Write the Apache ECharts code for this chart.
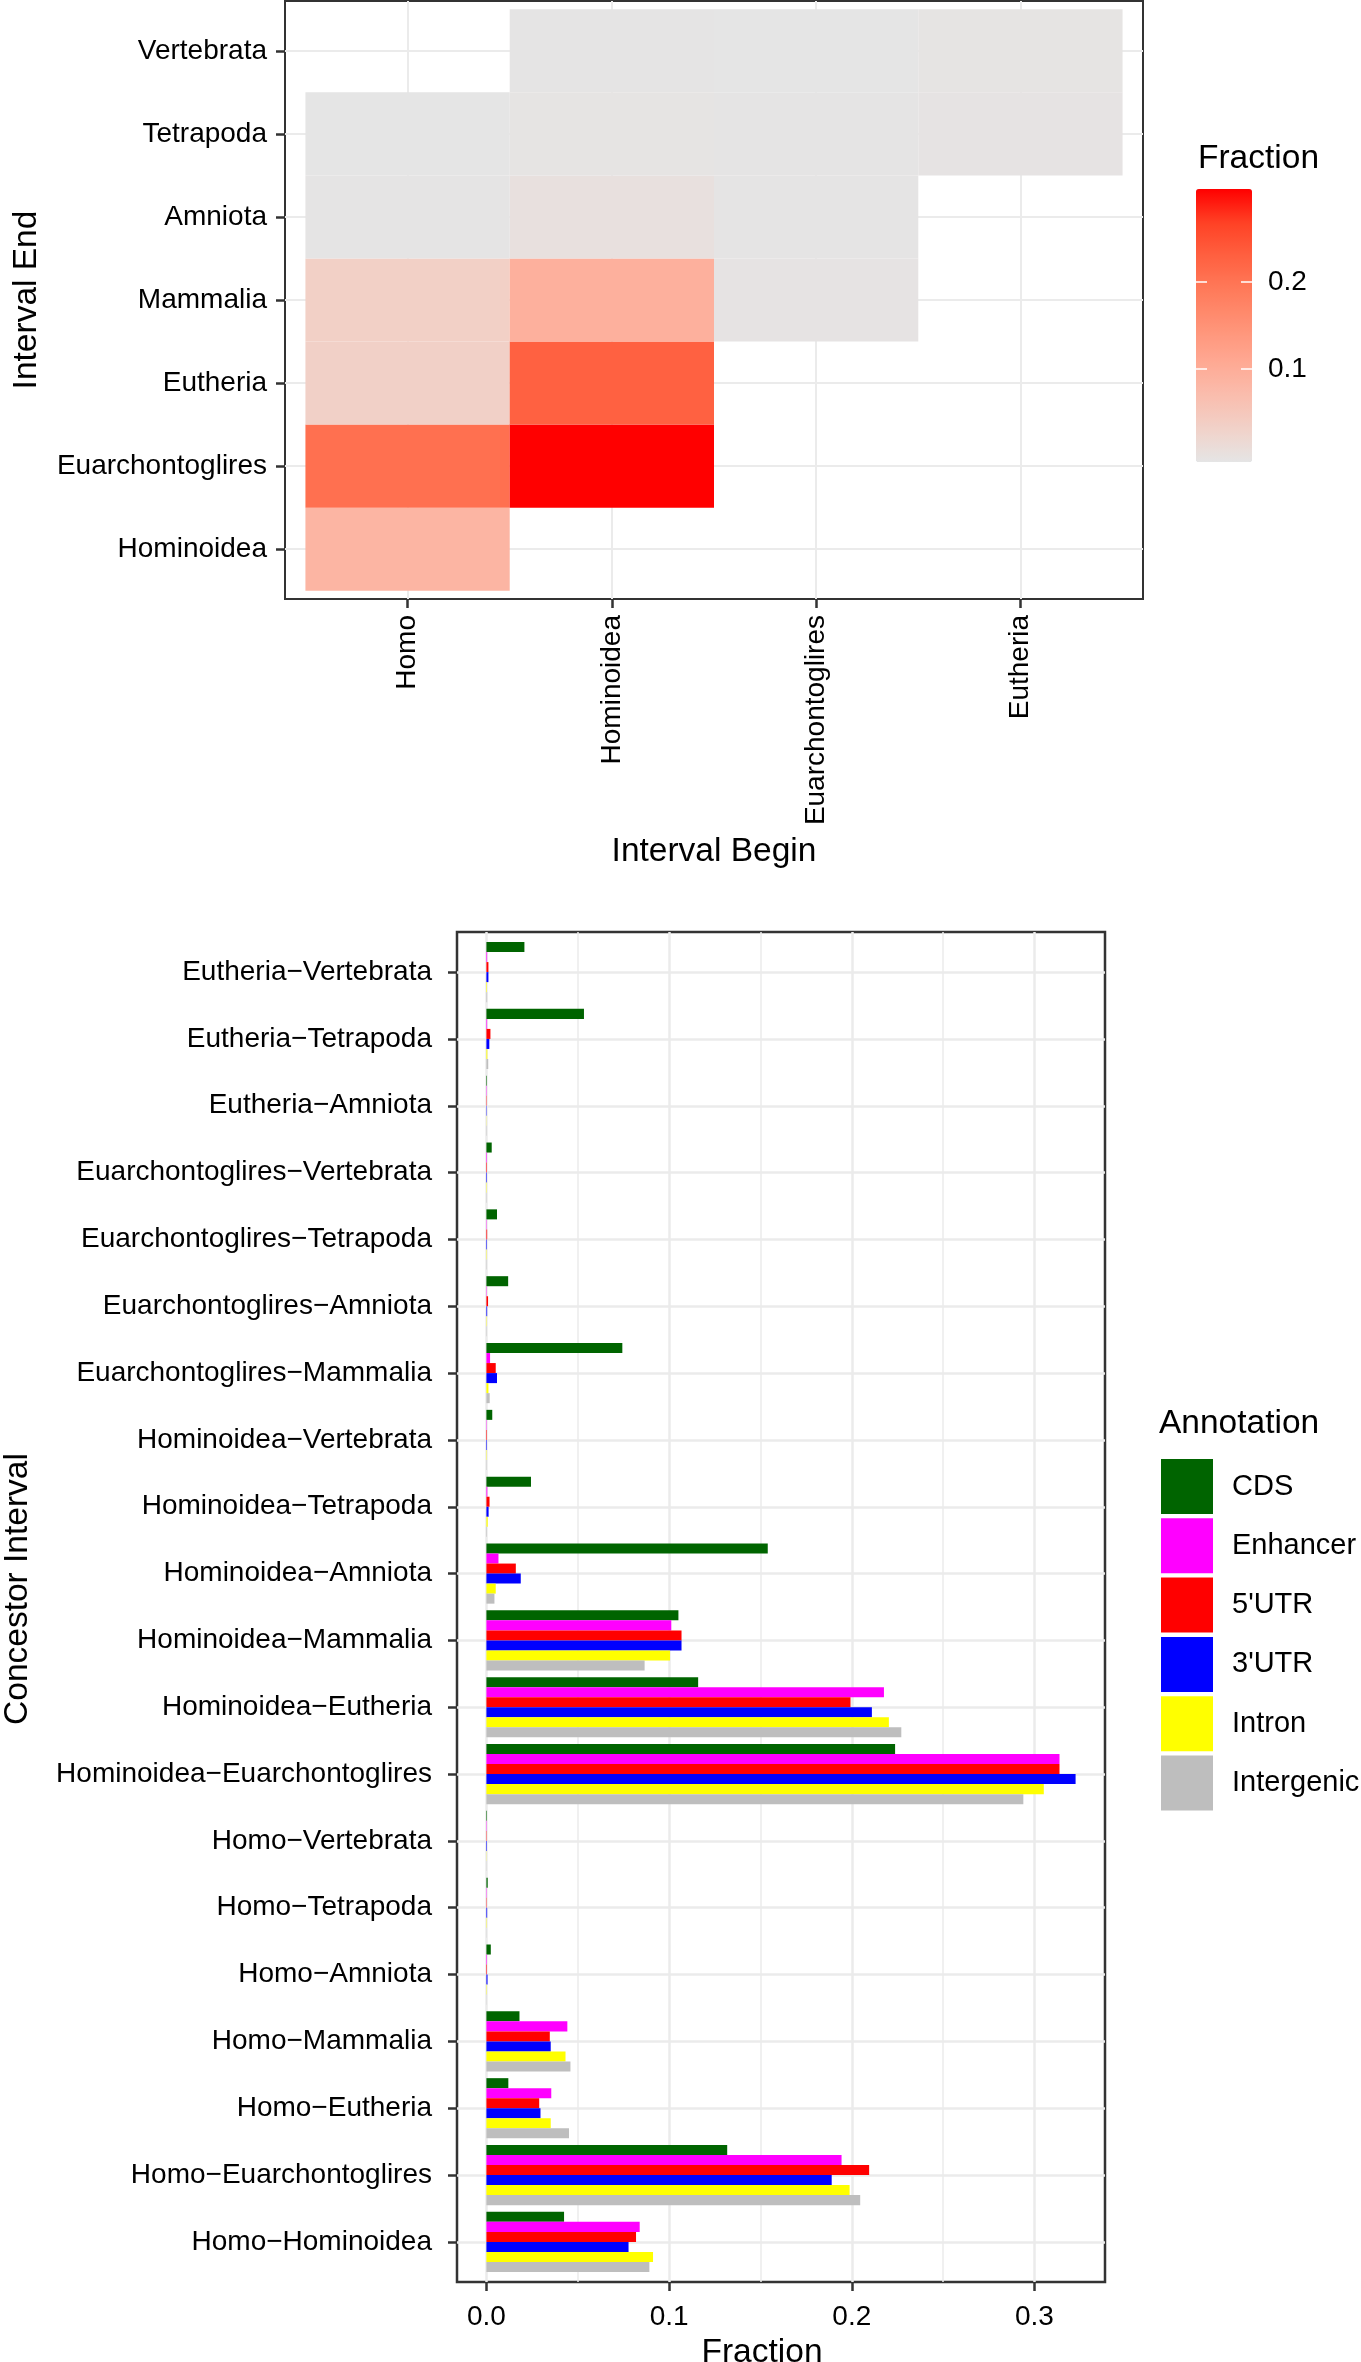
<!DOCTYPE html>
<html><head><meta charset="utf-8">
<script src="https://cdn.jsdelivr.net/npm/echarts@6/dist/echarts.min.js"></script>
<style>html,body{margin:0;padding:0;background:#fff}#c{width:1361px;height:2362px}</style>
</head><body><div id="c"></div>
<script>
const FONT = '"Liberation Sans", Arial, Helvetica, sans-serif';

// ---------- Heatmap data ----------
const beginLevels = ['Homo', 'Hominoidea', 'Euarchontoglires', 'Eutheria'];
const endLevels = ['Hominoidea', 'Euarchontoglires', 'Eutheria', 'Mammalia', 'Amniota', 'Tetrapoda', 'Vertebrata'];
const heatBegin = ['Homo', 'Homo', 'Homo', 'Homo', 'Homo', 'Homo',
  'Hominoidea', 'Hominoidea', 'Hominoidea', 'Hominoidea', 'Hominoidea', 'Hominoidea',
  'Euarchontoglires', 'Euarchontoglires', 'Euarchontoglires', 'Euarchontoglires',
  'Eutheria', 'Eutheria'];
const heatEnd = ['Hominoidea', 'Euarchontoglires', 'Eutheria', 'Mammalia', 'Amniota', 'Tetrapoda',
  'Euarchontoglires', 'Eutheria', 'Mammalia', 'Amniota', 'Tetrapoda', 'Vertebrata',
  'Mammalia', 'Amniota', 'Tetrapoda', 'Vertebrata',
  'Tetrapoda', 'Vertebrata'];
const heatFraction = [0.087, 0.204, 0.039, 0.040, 0.001, 0.0005,
  0.300, 0.225, 0.096, 0.009, 0.002, 0.001,
  0.003, 0.001, 0.001, 0.0005,
  0.003, 0.002];
const fractionLegendTicks = [0.1, 0.2];

// ---------- Bar data (top to bottom) ----------
const intervals = ['Eutheria−Vertebrata', 'Eutheria−Tetrapoda', 'Eutheria−Amniota',
  'Euarchontoglires−Vertebrata', 'Euarchontoglires−Tetrapoda', 'Euarchontoglires−Amniota', 'Euarchontoglires−Mammalia',
  'Hominoidea−Vertebrata', 'Hominoidea−Tetrapoda', 'Hominoidea−Amniota', 'Hominoidea−Mammalia',
  'Hominoidea−Eutheria', 'Hominoidea−Euarchontoglires',
  'Homo−Vertebrata', 'Homo−Tetrapoda', 'Homo−Amniota', 'Homo−Mammalia', 'Homo−Eutheria',
  'Homo−Euarchontoglires', 'Homo−Hominoidea'];
const annotations = ['CDS', 'Enhancer', "5'UTR", "3'UTR", 'Intron', 'Intergenic'];
const cds        = [0.0208, 0.0534, 0.0003, 0.0029, 0.0058, 0.0119, 0.0744, 0.0032, 0.0244, 0.1540, 0.1051, 0.1159, 0.2237, 0.0003, 0.0007, 0.0024, 0.0181, 0.0120, 0.1318, 0.0425];
const enhancer   = [0.0004, 0.0004, 0.0002, 0.0003, 0.0002, 0.0002, 0.0020, 0.0002, 0.0005, 0.0066, 0.1012, 0.2176, 0.3137, 0.0002, 0.0002, 0.0003, 0.0443, 0.0355, 0.1944, 0.0839];
const utr5       = [0.0011, 0.0022, 0.0002, 0.0003, 0.0004, 0.0009, 0.0051, 0.0003, 0.0017, 0.0161, 0.1068, 0.1993, 0.3137, 0.0002, 0.0002, 0.0003, 0.0347, 0.0289, 0.2095, 0.0819];
const utr3       = [0.0011, 0.0016, 0.0002, 0.0003, 0.0003, 0.0004, 0.0058, 0.0003, 0.0012, 0.0188, 0.1068, 0.2110, 0.3225, 0.0003, 0.0004, 0.0006, 0.0352, 0.0296, 0.1890, 0.0778];
const intron     = [0.0003, 0.0005, 0.0001, 0.0002, 0.0002, 0.0002, 0.0011, 0.0002, 0.0007, 0.0051, 0.1005, 0.2203, 0.3051, 0.0001, 0.0002, 0.0002, 0.0433, 0.0352, 0.1988, 0.0912];
const intergenic = [0.0004, 0.0010, 0.0002, 0.0002, 0.0002, 0.0002, 0.0018, 0.0002, 0.0003, 0.0044, 0.0866, 0.2271, 0.2939, 0.0001, 0.0001, 0.0001, 0.0460, 0.0452, 0.2046, 0.0892];
const fractionTicks = [0, 0.1, 0.2, 0.3];
const fractionMinorTicks = [0.05, 0.15, 0.25];

// ---------- styles ----------
const annotationColors = ['#006400', '#FF00FF', '#FF0000', '#0000FF', '#FFFF00', '#BEBEBE'];
const heatColors = ['#E5E5E5', '#F1D1C8', '#FABCAC', '#FFA791', '#FF9276', '#FF7B5B', '#FF6141', '#FF4225', '#FF0000'];
const GRID = '#EBEBEB', INK = '#333333';

const seriesValues = [cds, enhancer, utr5, utr3, intron, intergenic];
const beginPos = beginLevels.map((_, i) => i + 1);
const endPos = endLevels.map((_, i) => i + 1);
const intervalPos = intervals.map((_, i) => i + 1);

const heatData = heatBegin.map((b, i) => [beginLevels.indexOf(b) + 1, endLevels.indexOf(heatEnd[i]) + 1, heatFraction[i]]);

function heatRender(params, api) {
  const x = api.value(0), y = api.value(1);
  const p0 = api.coord([x - 0.5, y + 0.5]);
  const p1 = api.coord([x + 0.5, y - 0.5]);
  return { type: 'rect', shape: { x: p0[0], y: p0[1], width: p1[0] - p0[0], height: p1[1] - p0[1] },
    style: { fill: api.visual('color') } };
}
function barRender(k) {
  return function (params, api) {
    const v = api.value(0), y = api.value(1);
    const top = y - 0.45 + k * 0.15, bot = top + 0.15;
    const a = api.coord([0, top]), b = api.coord([v, bot]);
    return { type: 'rect', shape: { x: a[0], y: Math.min(a[1], b[1]), width: b[0] - a[0], height: Math.abs(b[1] - a[1]) },
      style: { fill: annotationColors[k] } };
  };
}

const tickLabel = { fontSize: 28, color: '#000', fontFamily: FONT };
const titleStyle = { fontSize: 33.5, color: '#000', fontWeight: 'normal', fontFamily: FONT };
const noLine = { show: false, onZero: false };

const option = {
  animation: false,
  backgroundColor: '#fff',
  textStyle: { fontFamily: FONT },
  title: [
    { text: 'Fraction', left: 1198, top: 142, padding: 0, textStyle: titleStyle },
    { text: 'Annotation', left: 1159, top: 1407, padding: 0, textStyle: titleStyle }
  ],
  grid: [
    { left: 285, top: 1, width: 858, height: 598, show: true, borderColor: INK, borderWidth: 2, backgroundColor: '#fff', outerBoundsMode: 'none' },
    { left: 457, top: 932, width: 648, height: 1350, show: true, borderColor: INK, borderWidth: 2.5, backgroundColor: '#fff', outerBoundsMode: 'none' },
    { left: 1196, top: 189, width: 56, height: 273, show: false, outerBoundsMode: 'none' }
  ],
  xAxis: [
    { gridIndex: 0, type: 'value', min: 0.4, max: 4.6,
      axisLine: noLine,
      axisTick: { customValues: beginPos, length: 9, lineStyle: { color: INK, width: 2.5 } },
      axisLabel: { customValues: beginPos, formatter: v => beginLevels[Math.round(v) - 1], rotate: 90, margin: 16, ...tickLabel },
      splitLine: { show: true, lineStyle: { color: GRID, width: 2 } },
      name: 'Interval Begin', nameLocation: 'middle', nameGap: 236, nameTextStyle: titleStyle },
    { gridIndex: 1, type: 'value', min: -0.0161, max: 0.3386,
      axisLine: noLine,
      axisTick: { customValues: fractionTicks, length: 9, lineStyle: { color: INK, width: 2.5 } },
      axisLabel: { customValues: fractionTicks, formatter: v => v.toFixed(1), margin: 21, ...tickLabel },
      splitLine: { show: true, lineStyle: { color: GRID, width: 2.5 } },
      name: 'Fraction', nameLocation: 'middle', nameGap: 39, nameTextStyle: { ...titleStyle, padding: [0, 38, 0, 0] } },
    { gridIndex: 1, type: 'value', min: -0.0161, max: 0.3386, position: 'bottom',
      axisLine: noLine, axisLabel: { show: false },
      axisTick: { show: false, customValues: fractionMinorTicks },
      splitLine: { show: true, lineStyle: { color: GRID, width: 1.5 } } },
    { gridIndex: 2, type: 'value', min: 0, max: 1, show: false }
  ],
  yAxis: [
    { gridIndex: 0, type: 'value', min: 0.4, max: 7.6,
      axisLine: noLine,
      axisTick: { customValues: endPos, length: 9, lineStyle: { color: INK, width: 2.5 } },
      axisLabel: { customValues: endPos, formatter: v => endLevels[Math.round(v) - 1], margin: 18, padding: [5, 0, 0, 0], ...tickLabel },
      splitLine: { show: true, lineStyle: { color: GRID, width: 2 } },
      name: 'Interval End', nameLocation: 'middle', nameGap: 241, nameTextStyle: titleStyle },
    { gridIndex: 1, type: 'value', min: 0.4, max: 20.6, inverse: true,
      axisLine: noLine,
      axisTick: { customValues: intervalPos, length: 9, lineStyle: { color: INK, width: 2.5 } },
      axisLabel: { customValues: intervalPos, formatter: v => intervals[Math.round(v) - 1], margin: 25, padding: [6, 0, 0, 0], ...tickLabel },
      splitLine: { show: true, lineStyle: { color: GRID, width: 2.5 } },
      name: 'Concestor Interval', nameLocation: 'middle', nameGap: 422, nameTextStyle: { ...titleStyle, padding: [0, 0, 0, 36] } },
    { gridIndex: 2, type: 'value', min: -0.0075, max: 0.3075, position: 'right', z: 10,
      axisLine: noLine,
      axisTick: { customValues: fractionLegendTicks, inside: true, length: 11, lineStyle: { color: '#fff', width: 1.5 } },
      axisLabel: { customValues: fractionLegendTicks, formatter: v => v.toFixed(1), margin: 16, ...tickLabel },
      splitLine: { show: false } },
    { gridIndex: 2, type: 'value', min: -0.0075, max: 0.3075, position: 'left', z: 10,
      axisLine: noLine, axisLabel: { show: false },
      axisTick: { customValues: fractionLegendTicks, inside: true, length: 11, lineStyle: { color: '#fff', width: 1.5 } },
      splitLine: { show: false } }
  ],
  visualMap: {
    type: 'continuous', min: 0, max: 0.30, seriesIndex: 0, dimension: 2,
    calculable: false, hoverLink: false, orient: 'vertical',
    left: 1196, top: 189, itemWidth: 56, itemHeight: 273, padding: 0, text: null,
    inRange: { color: heatColors }
  },
  legend: {
    orient: 'vertical', left: 1161, top: 1459, padding: 0,
    itemWidth: 52, itemHeight: 55, itemGap: 4.3, icon: 'rect', selectedMode: false,
    data: annotations,
    textStyle: { fontSize: 29, color: '#000', fontFamily: FONT, padding: [0, 0, 0, 14] }
  },
  series: [
    { type: 'custom', name: 'heat', xAxisIndex: 0, yAxisIndex: 0, data: heatData,
      encode: { x: 0, y: 1 }, renderItem: heatRender, silent: true }
  ].concat(annotations.map((name, k) => ({
    type: 'custom', name: name, xAxisIndex: 1, yAxisIndex: 1,
    data: seriesValues[k].map((v, i) => [v, intervalPos[i]]),
    encode: { x: 0, y: 1 }, renderItem: barRender(k), silent: true,
    itemStyle: { color: annotationColors[k] }
  })))
};

const chart = echarts.init(document.getElementById('c'), null, { renderer: 'canvas' });
chart.setOption(option);
</script></body></html>
